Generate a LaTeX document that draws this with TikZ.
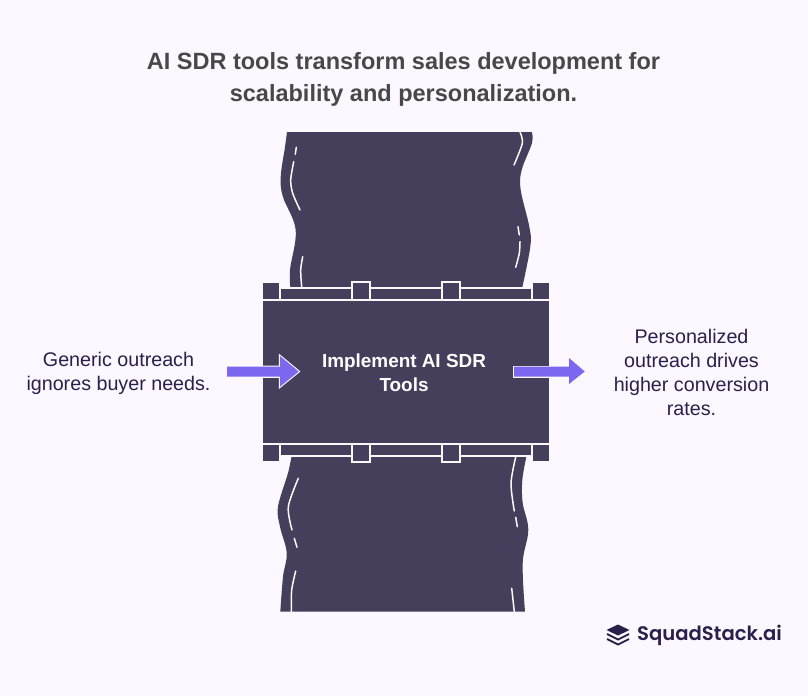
\documentclass[tikz,border=0pt]{standalone}
\usepackage{fontspec}
\setmainfont{Liberation Sans}
\newfontfamily\logofont[BoldFont={Poppins SemiBold}]{Poppins}
\definecolor{bgc}{HTML}{FDF7FF}
\definecolor{band}{HTML}{453F5C}
\definecolor{arrowc}{HTML}{7B68EE}
\definecolor{titlec}{HTML}{484848}
\definecolor{labelc}{HTML}{2A2049}
\tikzset{
  bandfill/.style={fill=band,draw=none},
  mark line/.style={draw=bgc,line width=1.5pt,line cap=round},
  frame part/.style={fill=band,draw=bgc,line width=1.7pt},
  plain part/.style={fill=band,draw=none},
  flow arrow/.style={fill=arrowc,draw=none},
  flow outline/.style={draw=bgc,line width=2.2pt,line join=miter},
  label text/.style={text=labelc,align=center,font=\fontsize{19.7}{24}\selectfont,inner sep=0pt},
}
\begin{document}
\begin{tikzpicture}[x=1pt,y=-1pt]
\useasboundingbox (0,0) rectangle (808,696);
\fill[bgc] (0,0) rectangle (808,696);
% bands
\path[bandfill] plot[smooth,tension=0.6] coordinates {(287,132)(285,147)(280.7,177)(283,197)(295.7,230)(290,270)(290.7,290)}
  -- plot[smooth,tension=0.6] coordinates {(521.7,290)(530.3,246.7)(529.3,226.7)(520.7,190)(521.7,170)(532,143)(531.7,132)} -- cycle;
\path[bandfill] plot[smooth,tension=0.6] coordinates {(291.7,455)(288,473)(278,506.7)(280,526.7)(286.7,553)(283,576.7)(280.3,611.7)}
  -- plot[smooth,tension=0.6] coordinates {(525,611.7)(522.7,563)(528.3,530)(522.7,503)(522.3,480)(526.7,455)} -- cycle;
% highlight strokes
\draw[mark line] (296.3,147.3) -- (295.3,154.3);
\draw[mark line] plot[smooth] coordinates {(293.7,161.7)(290.7,180)(292.7,193.3)(300,210)};
\draw[mark line] plot[smooth] coordinates {(302.7,256.7)(300.7,270)(301.7,287)};
\draw[mark line] plot[smooth] coordinates {(520,132)(522.3,143.3)(514,165)};
\draw[mark line] (518,226.7) -- (519.3,235);
\draw[mark line] plot[smooth] coordinates {(520,241.7)(519.3,253.3)(515.7,267.3)};
\draw[mark line] plot[smooth] coordinates {(298.3,478.3)(288.3,506.7)(292,530)};
\draw[mark line] (294.3,538.3) -- (297,547.3);
\draw[mark line] plot[smooth] coordinates {(295.7,571)(291.7,590)(291.3,611.7)};
\draw[mark line] plot[smooth] coordinates {(515.7,457)(511,483.3)(514.3,511)};
\draw[mark line] (515.7,517.3) -- (517.3,526.7);
\draw[mark line] (511.7,588.3) -- (514.3,611.7);
% frame
\fill[bgc] (280,287) rectangle (532,300);
\fill[bgc] (280,444) rectangle (532,457);
\path[plain part] (281,289) rectangle (531,299);
\path[plain part] (281,445) rectangle (531,455);
\path[plain part] (263,283) rectangle (279,299);
\path[plain part] (533,283) rectangle (549,299);
\path[plain part] (263,445) rectangle (279,461);
\path[plain part] (533,445) rectangle (549,461);
\path[frame part] (352,282) rectangle (370,300);
\path[frame part] (442,282) rectangle (460,300);
\path[frame part] (352,444) rectangle (370,462);
\path[frame part] (442,444) rectangle (460,462);
\node[plain part,minimum width=286pt,minimum height=142pt,inner sep=0pt,anchor=north west] (box) at (263,301) {};
% arrows
\begin{scope}
\clip (263,301) rectangle (549,443);
\draw[flow outline] (227,366.7) -- (280,366.7) -- (280,356) -- (298.7,371.5) -- (280,386.7) -- (280,376.7) -- (227,376.7) -- cycle;
\draw[flow outline] (514,366.7) -- (569,366.7) -- (569,376.7) -- (514,376.7) -- cycle;
\end{scope}
\path[flow arrow] (227,366.7) -- (280,366.7) -- (280,356) -- (298.7,371.5) -- (280,386.7) -- (280,376.7) -- (227,376.7) -- cycle;
\path[flow arrow] (514,366.7) -- (569,366.7) -- (569,358) -- (584.7,371.5) -- (569,384) -- (569,376.7) -- (514,376.7) -- cycle;
% texts
\node[text=titlec,align=center,inner sep=0pt,font=\fontsize{23.5}{31.5}\selectfont\bfseries] (title) at (403.5,79.5) {AI SDR tools transform sales development for\\scalability and personalization.};
\node[text=white,align=center,inner sep=0pt,font=\fontsize{18.9}{24}\selectfont\bfseries] (boxlabel) at (404,372.5) {Implement AI SDR\\Tools};
\node[label text] (inlabel) at (118.5,373) {Generic outreach\\ignores buyer needs.};
\node[label text] (outlabel) at (691.5,372.5) {Personalized\\outreach drives\\higher conversion\\rates.};
% logo
\fill[labelc] (618,624.5) -- (629.5,630) -- (618,635.5) -- (606.5,630) -- cycle;
\draw[labelc,line width=1.8pt,line join=miter] (607,634) -- (618,639.5) -- (629,634);
\draw[labelc,line width=1.8pt,line join=miter] (607,639) -- (618,644.5) -- (629,639);
\node[text=labelc,anchor=west,inner sep=0pt,font=\logofont\fontsize{19.6}{24}\selectfont\bfseries] (logo) at (637,635) {SquadStack.ai};
\end{tikzpicture}
\end{document}
